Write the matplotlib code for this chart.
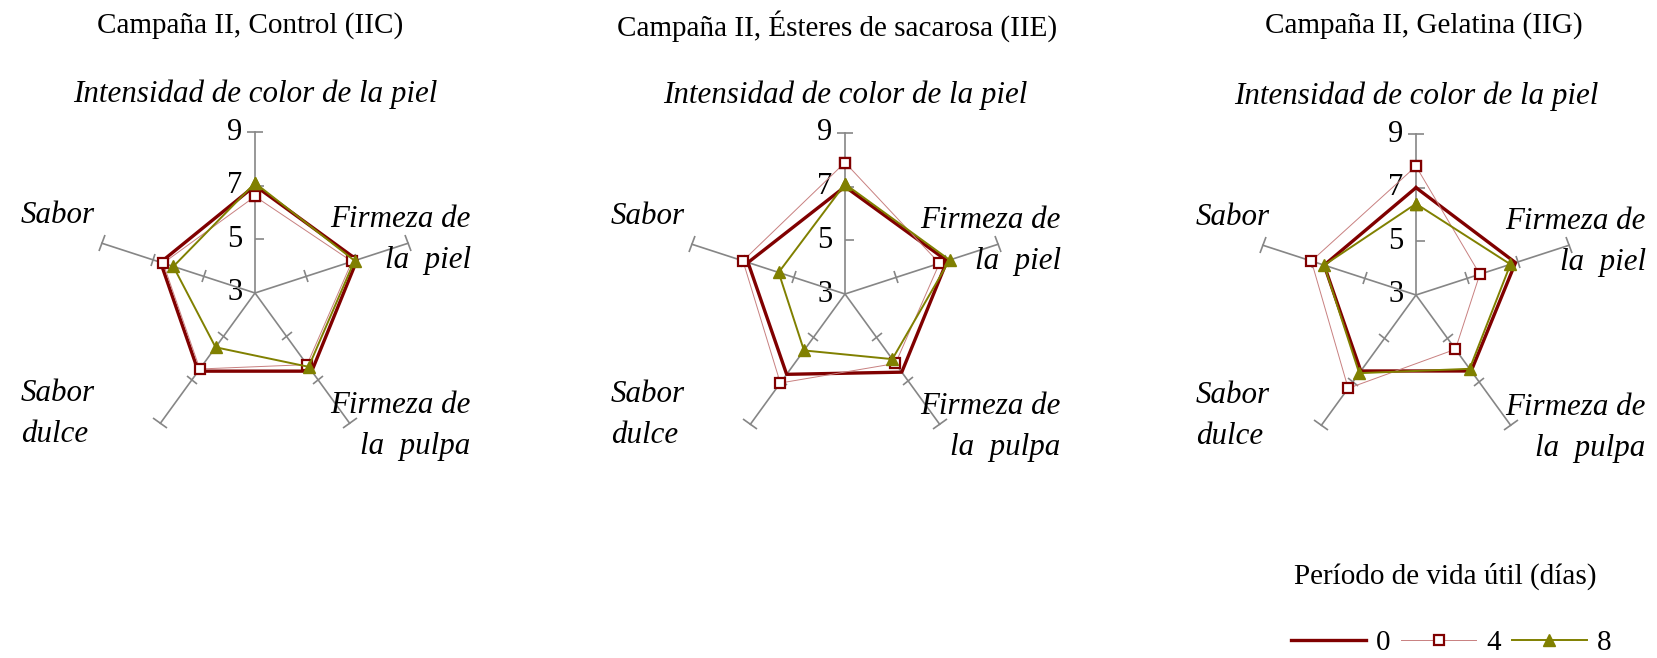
import numpy as np
import matplotlib
matplotlib.use('Agg')
import matplotlib.pyplot as plt
from matplotlib.markers import MarkerStyle
from matplotlib.path import Path
from matplotlib.transforms import Affine2D, offset_copy
from matplotlib.lines import Line2D

plt.rcParams['font.family'] = ['Liberation Serif', 'DejaVu Serif']

# ---------------- data ----------------
categories = ["Intensidad de color de la piel", "Firmeza de\nla  piel",
              "Firmeza de\nla  pulpa", "Sabor\ndulce", "Sabor"]
titles = ["Campaña II, Control (IIC)",
          "Campaña II, Ésteres de sacarosa (IIE)",
          "Campaña II, Gelatina (IIG)"]
days = ["0", "4", "8"]
legend_title = "Período de vida útil (días)"
r_ticks = [3, 5, 7, 9]

# order: color piel, firmeza piel, firmeza pulpa, sabor dulce, sabor
iic_d0 = [7.0, 7.0, 6.6, 6.6, 6.7]
iic_d4 = [6.6, 6.8, 6.3, 6.5, 6.6]
iic_d8 = [7.1, 6.9, 6.4, 5.5, 6.2]

iie_d0 = [7.0, 7.0, 6.6, 6.7, 6.8]
iie_d4 = [7.9, 6.7, 6.2, 7.1, 7.0]
iie_d8 = [7.1, 7.1, 6.0, 5.6, 5.6]

iig_d0 = [7.0, 6.9, 6.5, 6.5, 6.6]
iig_d4 = [7.8, 5.5, 5.5, 7.3, 7.1]
iig_d8 = [6.4, 6.7, 6.4, 6.6, 6.6]

charts = [(iic_d0, iic_d4, iic_d8), (iie_d0, iie_d4, iie_d8), (iig_d0, iig_d4, iig_d8)]

# ---------------- styles / layout ----------------
W, H = 1657, 658
centers = [(255, 293), (845, 294), (1416, 295)]
title_x = [250, 837, 1424]
label_dx = [0, 0, 14]
R = 161
gray = '#868686'
dred = '#800000'
pink = '#c88080'
olive = '#808000'
FS = 21
FS_LAB = 22.3

styles = [
    dict(color=dred, lw=2.4, marker=None),
    dict(color=pink, lw=0.7, marker='s', ms=7.5, mfc='white', mec=dred, mew=1.6),
    dict(color=olive, lw=1.4, marker='^', ms=9, mfc=olive, mec=olive),
]

label_pos = [(0.5, 1.117, 'center'), (1.17, 0.665, 'right'), (1.17, 0.087, 'right'),
             (-0.228, 0.123, 'left'), (-0.228, 0.74, 'left')]

fig = plt.figure(figsize=(W / 100, H / 100), dpi=100)
theta = np.linspace(0, 2 * np.pi, len(categories), endpoint=False)
one_side = Path([(0, 0), (1, 0)])

for k, (series, (cx, cy)) in enumerate(zip(charts, centers)):
    ax = fig.add_axes([(cx - R) / W, 1 - (cy + R) / H, 2 * R / W, 2 * R / H],
                      projection='polar')
    ax.set_theta_zero_location('N')
    ax.set_theta_direction(-1)
    ax.set_ylim(r_ticks[0], r_ticks[-1])
    ax.set_xticks([])
    ax.set_yticks([])
    ax.grid(False)
    ax.spines['polar'].set_visible(False)
    ax.patch.set_visible(False)

    for i, t in enumerate(theta):
        ax.plot([t, t], [r_ticks[0], r_ticks[-1]], color=gray, lw=1.2, zorder=1, clip_on=False)
        ang = -np.degrees(t)
        if i == 0:
            ax.plot([t] * 2, r_ticks[1:3], ls='none', clip_on=False, zorder=1,
                    marker=MarkerStyle(one_side), ms=13, mec=gray, mew=1.2)
            ax.plot([t], [r_ticks[-1]], ls='none', clip_on=False, zorder=1,
                    marker='_', ms=12, mec=gray, mew=1.2)
        else:
            ax.plot([t] * 2, r_ticks[1:3], ls='none', clip_on=False, zorder=1,
                    marker=MarkerStyle('_', transform=Affine2D().rotate_deg(ang)),
                    ms=9.5, mec=gray, mew=1.2)
            ax.plot([t], [r_ticks[-1]], ls='none', clip_on=False, zorder=1,
                    marker=MarkerStyle('_', transform=Affine2D().rotate_deg(ang)),
                    ms=12.5, mec=gray, mew=1.2)

    tr = offset_copy(ax.transData, fig=fig, x=-9, y=0, units='points')
    for v in r_ticks:
        ax.text(0, v, str(v), transform=tr, ha='right', va='center',
                fontsize=22, zorder=0.5)

    tt = np.r_[theta, theta[0]]
    for vals, st in zip(series, styles):
        ax.plot(tt, np.r_[vals, vals[0]], clip_on=False, zorder=3, **st)

    dx = label_dx[k] / (2 * R)
    for j, (lab, (x, y, ha)) in enumerate(zip(categories, label_pos)):
        ax.text(x + (dx if j else 0), y, lab, transform=ax.transAxes, ha=ha, va='center',
                multialignment=ha, fontsize=FS_LAB, style='italic', linespacing=1.55)

    fig.text(title_x[k] / W, 1 - 26 / H, titles[k], ha='center', va='center', fontsize=FS)

fig.text(1445 / W, 1 - 576 / H, legend_title, ha='center', va='center', fontsize=FS)
handles = [Line2D([], [], **st) for st in styles]
fig.legend(handles, days, loc='center', bbox_to_anchor=(1451 / W, 1 - 643 / H), ncol=3,
           frameon=False, fontsize=FS, handlelength=2.57, handletextpad=0.34,
           columnspacing=0.38, borderpad=0)

fig.savefig('out.png', dpi=100)
